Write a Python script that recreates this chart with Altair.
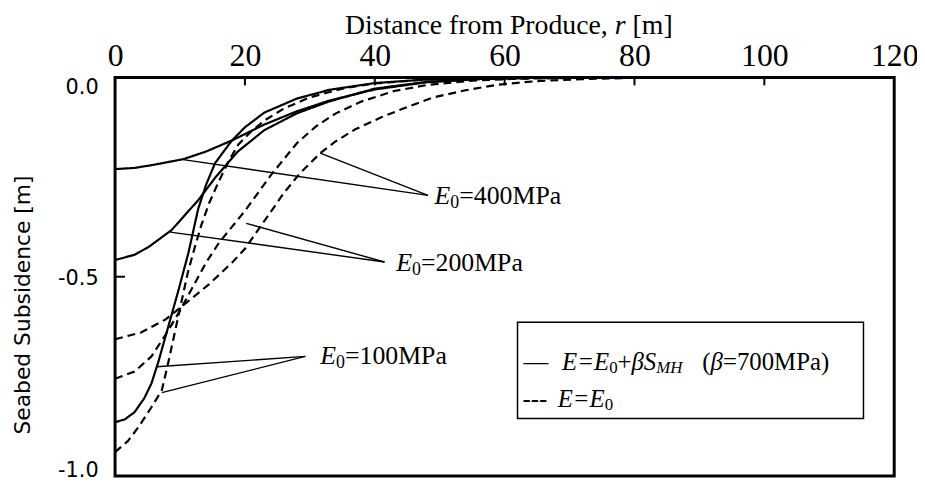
import altair as alt
import pandas as pd

# ---------------- data ----------------
r_solid_400 = [0, 3, 6, 10.5, 14, 18, 23, 28, 33, 40, 48, 56, 65, 80, 106]
s_solid_400 = [-0.230, -0.227, -0.219, -0.205, -0.186, -0.158, -0.118, -0.085, -0.058, -0.030, -0.012, -0.004, -0.001, 0.0, 0.0]

r_solid_200 = [0, 3, 5.2, 8.7, 12.8, 15.4, 18.9, 23, 28, 33, 40, 48, 56, 65, 80, 106]
s_solid_200 = [-0.458, -0.445, -0.425, -0.383, -0.308, -0.252, -0.186, -0.132, -0.090, -0.060, -0.028, -0.011, -0.004, -0.001, 0.0, 0.0]

r_solid_100 = [0, 1.5, 3, 4.5, 5.6, 6.7, 8.2, 9.8, 11.3, 12.8, 14, 15.4, 17.9, 20, 23, 28, 33, 40, 48, 58, 70, 106]
s_solid_100 = [-0.865, -0.858, -0.840, -0.805, -0.768, -0.712, -0.625, -0.532, -0.440, -0.330, -0.270, -0.215, -0.160, -0.125, -0.088, -0.053, -0.031, -0.014, -0.005, -0.001, 0.0, 0.0]

r_dash_400 = [0, 4, 7.8, 11, 14.4, 18, 20, 23, 26, 28.5, 31.6, 34, 37, 41, 45, 49, 54, 59, 65, 72, 80, 90, 106]
s_dash_400 = [-0.657, -0.640, -0.607, -0.565, -0.520, -0.465, -0.430, -0.360, -0.290, -0.240, -0.190, -0.160, -0.130, -0.100, -0.074, -0.050, -0.032, -0.018, -0.009, -0.004, -0.001, 0.0, 0.0]

r_dash_200 = [0, 3, 5.6, 8, 10, 12, 14, 16, 18, 20, 22, 24, 26, 28, 31, 34, 38, 43, 48, 55, 62, 72, 85, 106]
s_dash_200 = [-0.756, -0.738, -0.700, -0.640, -0.585, -0.525, -0.465, -0.415, -0.375, -0.335, -0.290, -0.245, -0.205, -0.165, -0.122, -0.090, -0.060, -0.034, -0.019, -0.008, -0.003, -0.001, 0.0, 0.0]

r_dash_100 = [0, 2, 3.7, 5.5, 7.2, 8.2, 9.2, 10.2, 11.2, 12.3, 13.3, 14.5, 16, 17.5, 19, 21, 23, 26, 30, 35, 40, 48, 58, 70, 106]
s_dash_100 = [-0.940, -0.912, -0.875, -0.830, -0.785, -0.715, -0.640, -0.565, -0.490, -0.425, -0.370, -0.315, -0.260, -0.210, -0.168, -0.135, -0.108, -0.078, -0.050, -0.028, -0.015, -0.005, -0.001, 0.0, 0.0]

x_ticks = [0, 20, 40, 60, 80, 100, 120]
y_ticks = [0.0, -0.5, -1.0]

# annotation labels (E0 values) and arrows
ann_labels = ["=400MPa", "=200MPa", "=100MPa"]
ann_text_r = [49.2, 43.3, 31.6]
ann_text_s = [-0.298, -0.466, -0.700]
arrow_r = [48.2, 48.2, 41.5, 41.5, 29.3, 29.3]
arrow_s = [-0.296, -0.296, -0.463, -0.463, -0.700, -0.700]
arrow_r2 = [10.5, 31.6, 8.5, 20.2, 6.4, 7.2]
arrow_s2 = [-0.206, -0.190, -0.388, -0.366, -0.726, -0.791]

# ---------------- layout helpers ----------------
W, H = 786, 402
XMAX, YMIN = 120.0, -1.0


def px2r(px):
    return px / W * XMAX


def py2s(py):
    return py / H * YMIN


series = [
    ("solid", 400, r_solid_400, s_solid_400),
    ("solid", 200, r_solid_200, s_solid_200),
    ("solid", 100, r_solid_100, s_solid_100),
    ("dashed", 400, r_dash_400, s_dash_400),
    ("dashed", 200, r_dash_200, s_dash_200),
    ("dashed", 100, r_dash_100, s_dash_100),
]
rows = []
for kind, e0, rs, ss in series:
    for r, s in zip(rs, ss):
        rows.append({"r": r, "s": s, "kind": kind, "series": f"{kind}-{e0}"})
df = pd.DataFrame(rows)

xscale = alt.Scale(domain=[0, XMAX], nice=False, zero=False)
yscale = alt.Scale(domain=[YMIN, 0.0], nice=False, zero=False)

SERIF = "Liberation Serif"
SANS = "DejaVu Sans"

x_axis = alt.Axis(orient="top", values=x_ticks, title=None, grid=False, domain=False,
                  ticks=False, labelFont=SERIF, labelFontSize=32, labelPadding=5,
                  labelColor="black", labelFlush=False, labelOverlap=False, format="d")
y_axis = alt.Axis(values=y_ticks, title="Seabed Subsidence [m]", titleFont=SANS,
                  titleFontSize=22, titleFontWeight="normal", titleColor="black",
                  titleX=-93, titleY=229, titleAngle=270, titleAlign="center",
                  titleBaseline="middle", grid=False, domain=False, ticks=False,
                  labelFont=SANS, labelFontSize=21, labelPadding=17, labelFlush=True,
                  labelFlushOffset=3, labelOffset=2,
                  labelColor="black", labelOverlap=False,
                  labelExpr="replace(format(datum.value, '.1f'), '\u2212', '-')")


def X(field="r"):
    return alt.X(f"{field}:Q", scale=xscale, axis=x_axis)


def Y(field="s"):
    return alt.Y(f"{field}:Q", scale=yscale, axis=y_axis)


lines = alt.Chart(df).mark_line(strokeWidth=2.2, color="black").encode(
    x=X(), y=Y(),
    strokeDash=alt.StrokeDash("kind:N", scale=alt.Scale(domain=["solid", "dashed"],
                              range=[[1, 0], [8, 5]]), legend=None),
    detail="series:N",
)

# inward ticks
top_ticks = alt.Chart(pd.DataFrame({"r": x_ticks[1:-1]})).mark_rule(
    color="black", strokeWidth=2).encode(x=X(), y=alt.value(0), y2=alt.value(8))
left_ticks = alt.Chart(pd.DataFrame({"s": [-0.5]})).mark_rule(
    color="black", strokeWidth=2).encode(y=Y(), x=alt.value(0), x2=alt.value(10))

# annotation arrows
arrows = alt.Chart(pd.DataFrame({"r": arrow_r, "s": arrow_s, "r2": arrow_r2, "s2": arrow_s2})).mark_rule(
    color="black", strokeWidth=1.4).encode(x=X(), y=Y(), x2="r2:Q", y2="s2:Q")

ann_df = pd.DataFrame({"r": ann_text_r, "s": ann_text_s, "label": ann_labels})
ann_E = alt.Chart(ann_df).mark_text(font=SERIF, fontSize=26, fontStyle="italic", align="left",
                                    baseline="middle", color="black", text="E").encode(x=X(), y=Y())
ann_0 = alt.Chart(ann_df).mark_text(font=SERIF, fontSize=18, align="left", baseline="middle",
                                    color="black", text="0", dx=16, dy=7).encode(x=X(), y=Y())
ann_v = alt.Chart(ann_df).mark_text(font=SERIF, fontSize=26, align="left", baseline="middle",
                                    color="black", dx=25).encode(text="label:N", x=X(), y=Y())


# chrome text pieces (title and legend), laid out in pixels then mapped to data units
def layout(pieces, x0, yc):
    out = []
    x = x0
    for text, style, size, dy, w_em in pieces:
        if text:
            out.append({"r": px2r(x), "s": py2s(yc + dy), "t": text, "style": style, "size": size})
        x += w_em * size
    return out


pieces = []
# top axis title: "Distance from Produce, r [m]"
pieces += layout([("Distance from Produce,", "normal", 28, 0, 9.72),
                  ("r", "italic", 28, 0, 0.389 + 0.25),
                  ("[m]", "normal", 28, 0, 1.444)], 232, -52)
# legend line 1
pieces += layout([("\u2014", "normal", 25, 0, 1.56)], 412, 287)
pieces += layout([("E=E", "italic", 25, 0, 1.897),
                  ("0", "normal", 17, 6, 0.5),
                  ("+", "normal", 25, 0, 0.564),
                  ("\u03b2S", "italic", 25, 0, 1.0),
                  ("MH", "italic", 17, 6, 1.555),
                  ("", "normal", 25, 0, 0.8),
                  ("(", "normal", 25, 0, 0.333),
                  ("\u03b2", "italic", 25, 0, 0.5),
                  ("=700MPa)", "normal", 25, 0, 4.286)], 451, 287)
# legend line 2
pieces += layout([("---", "normal", 25, 0, 1.42),
                  ("E=E", "italic", 25, 0, 1.897),
                  ("0", "normal", 17, 6, 0.5)], 411, 324)
pieces_df = pd.DataFrame(pieces)


def text_layer(style):
    d = pieces_df[pieces_df["style"] == style]
    return alt.Chart(d).mark_text(font=SERIF, fontStyle=style, align="left", baseline="middle",
                                  color="black").encode(
        x=X(), y=Y(), text="t:N", size=alt.Size("size:Q", scale=None, legend=None))


legend_box = alt.Chart(pd.DataFrame({"r": [px2r(406)], "r2": [px2r(755)],
                                     "s": [py2s(247)], "s2": [py2s(344)]})).mark_rect(
    fill="white", stroke="black", strokeWidth=1.5).encode(
    x=X(), x2="r2:Q", y=Y(), y2="s2:Q")

chart = alt.layer(
    lines, top_ticks, left_ticks, arrows, ann_E, ann_0, ann_v,
    legend_box, text_layer("normal"), text_layer("italic"),
).properties(
    width=W, height=H,
    autosize=alt.AutoSizeParams(type="none"),
    padding={"left": 108, "top": 68, "right": 23, "bottom": 4},
    background="white",
).configure_view(stroke="black", strokeWidth=3)

chart.save("out.html", embed_options={"renderer": "svg", "actions": False})
